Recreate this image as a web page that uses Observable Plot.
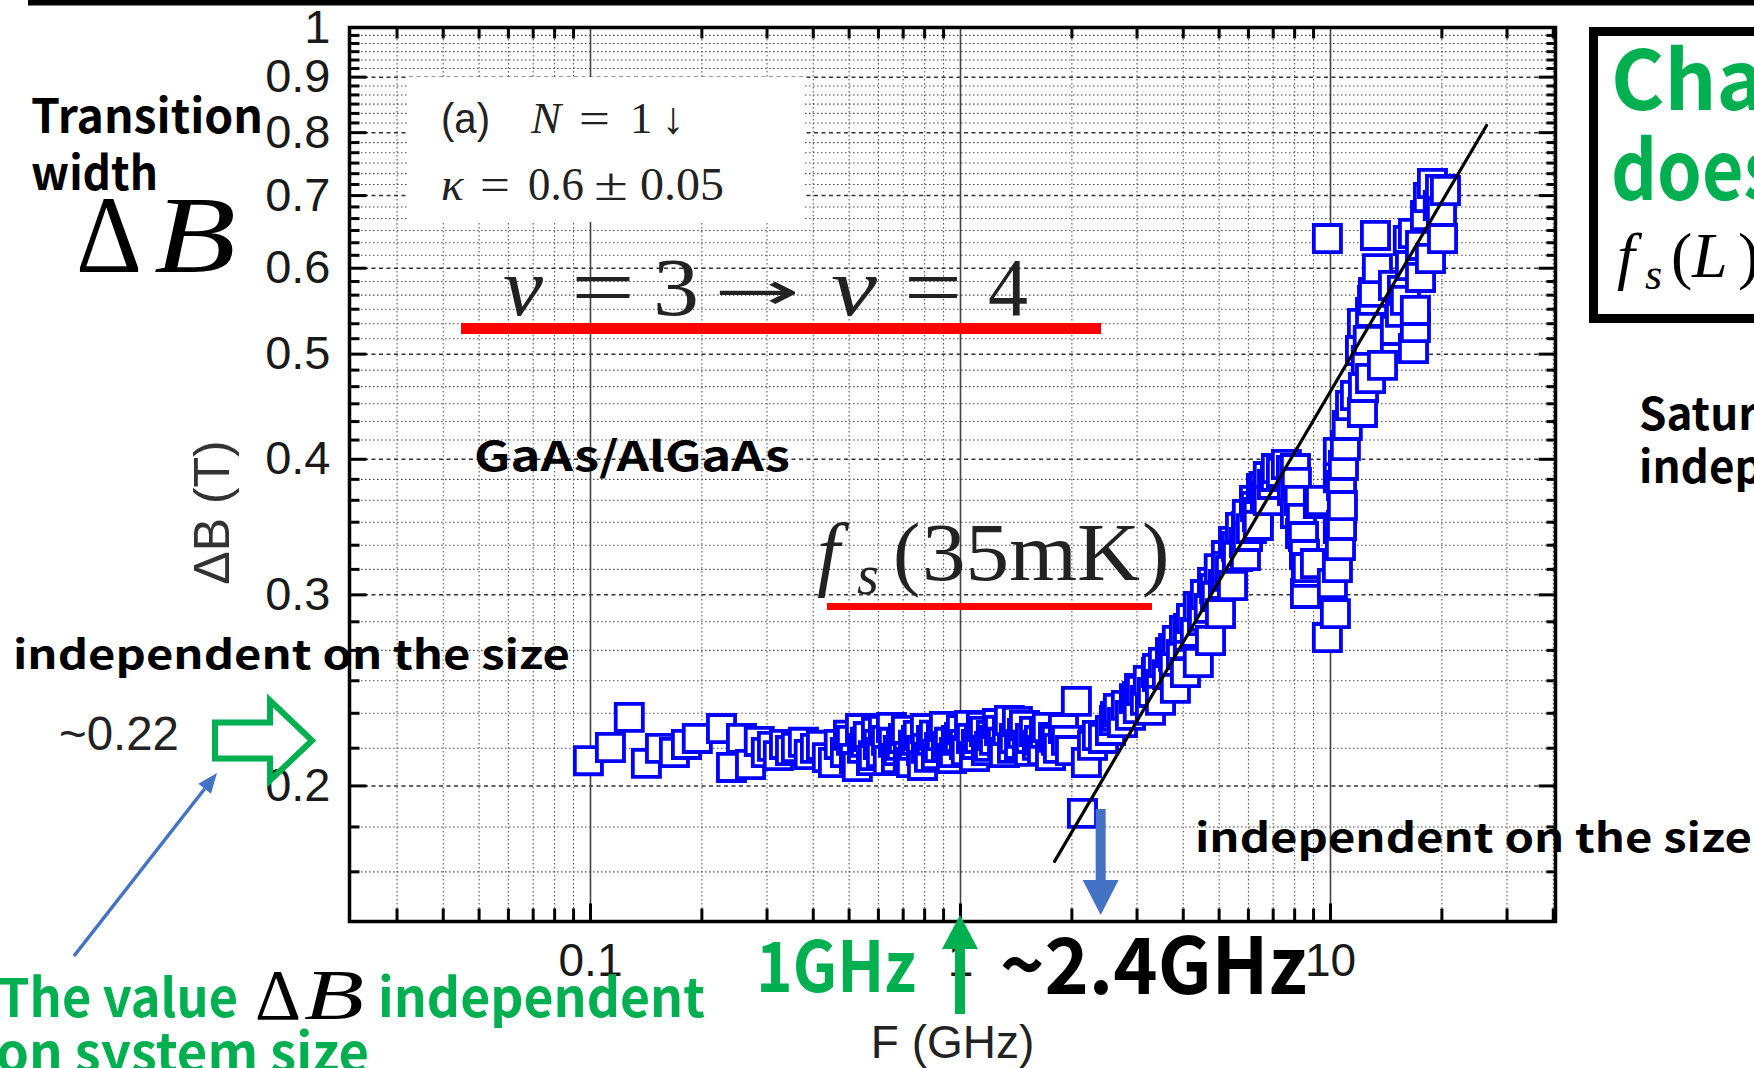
<!DOCTYPE html>
<html>
<head>
<meta charset="utf-8">
<script src="https://cdn.jsdelivr.net/npm/d3@7"></script>
<script src="https://cdn.jsdelivr.net/npm/@observablehq/plot@0.6"></script>
<style>
  html, body { margin: 0; padding: 0; background: #fff; }
  #page { position: relative; width: 1754px; height: 1068px; overflow: hidden; background: #fff; }
  #page > svg { position: absolute; left: 0; top: 0; }
</style>
</head>
<body>
<div id="page"></div>
<script>
// Transition width ΔB (T) versus microwave frequency F (GHz), N = 1↓, GaAs/AlGaAs
const F_GHz = [
  0.0987, 0.1132, 0.1273, 0.1416, 0.1546, 0.1686, 0.1817, 0.1944, 0.2260, 0.2405,
  0.2559, 0.2707, 0.2859, 0.2987, 0.3104, 0.3219, 0.3345, 0.3472, 0.3602, 0.3763,
  0.3901, 0.4055, 0.4210, 0.4367, 0.4536, 0.4703, 0.4887, 0.5074, 0.5263, 0.5434,
  0.5635, 0.5818, 0.5997, 0.6192, 0.6382, 0.6589, 0.6791, 0.7014, 0.7229, 0.7463,
  0.7692, 0.7894, 0.8089, 0.8348, 0.8608, 0.8884, 0.9161, 0.9454, 0.9748, 1.006,
  1.037, 1.071, 1.104, 1.139, 1.175, 1.212, 1.258, 1.299, 1.339, 1.382,
  1.425, 1.471, 1.517, 1.546, 1.614, 1.666, 1.717, 1.751, 1.816, 1.898,
  2.057, 2.136, 2.189, 2.274, 2.344, 2.435, 2.543, 2.607, 2.670, 2.741,
  2.808, 2.880, 2.952, 3.024, 3.084, 3.162, 3.219, 3.303, 3.384, 3.472,
  3.537, 3.624, 3.694, 3.786, 3.855, 3.956, 4.030, 4.129, 4.210, 4.315,
  4.393, 4.509, 4.592, 4.703, 4.798, 4.916, 5.004, 5.137, 5.232, 5.367,
  5.467, 5.602, 5.711, 5.854, 5.961, 6.114, 6.230, 6.382, 6.507, 6.670,
  6.791, 6.971, 7.142, 7.370, 7.600, 7.844, 8.088, 8.234, 8.347, 8.452,
  8.504, 8.607, 8.556, 9.107, 9.273, 9.808, 10.12, 10.44, 10.31, 10.64,
  10.71, 10.77, 10.71, 10.84, 10.97, 11.10, 11.33, 9.808, 11.68, 12.20,
  12.28, 12.05, 12.20, 12.83, 13.07, 13.39, 13.23, 13.82, 14.80, 16.76,
  16.96, 16.96, 17.51, 16.76, 18.63, 20.08, 19.95, 18.39, 19.83, 18.06,
  15.94, 14.98, 18.86, 20.45, 19.56, 17.51, 16.45, 15.46, 15.65, 16.23,
  12.99, 12.65, 12.50, 12.83, 8.040, 7.894, 8.040, 8.297, 8.660, 9.397,
  10.50, 10.50, 10.50, 4.393, 4.739, 5.043, 5.434, 5.889, 6.382, 6.791,
  3.262, 3.472, 3.809, 4.055,
  0.4981, 0.5170, 0.5367, 0.5536, 0.5747, 0.5929, 0.6115, 0.6310, 0.6508, 0.6714,
  0.6928, 0.7146, 0.7371, 0.7604, 0.7845, 0.8042, 0.8245, 0.8505, 0.8774, 0.9052,
  0.9338, 0.9634, 0.9938, 1.025, 1.058, 1.091, 1.126, 1.161, 1.198, 1.236,
  1.275, 1.315, 1.356, 1.399, 1.444, 1.489, 1.536, 1.585, 1.635, 1.687,
  1.784, 1.840, 1.934, 1.983,
  2.624, 2.673, 3.009, 3.047, 3.407, 3.407, 3.765, 3.765, 4.133, 4.133,
  4.537, 4.509, 4.890, 4.860, 5.236, 5.236, 5.607, 5.571, 5.966, 5.929,
  6.349, 6.271, 6.714, 6.631, 7.101
];
const deltaB_T = [
  0.2110, 0.2170, 0.2313, 0.2098, 0.2166, 0.2147, 0.2184, 0.2212, 0.2259, 0.2080,
  0.2212, 0.2093, 0.2198, 0.2147, 0.2175, 0.2133, 0.2184, 0.2156, 0.2170, 0.2194,
  0.2138, 0.2166, 0.2180, 0.2124, 0.2102, 0.2184, 0.2147, 0.2203, 0.2084, 0.2166,
  0.2221, 0.2133, 0.2184, 0.2250, 0.2111, 0.2194, 0.2156, 0.2212, 0.2129, 0.2180,
  0.2226, 0.2089, 0.2166, 0.2203, 0.2138, 0.2226, 0.2175, 0.2120, 0.2203, 0.2254,
  0.2156, 0.2212, 0.2184, 0.2269, 0.2156, 0.2226, 0.2283, 0.2194, 0.2250, 0.2166,
  0.2293, 0.2236, 0.2180, 0.2212, 0.2180, 0.2156, 0.2264, 0.2133, 0.2203, 0.2259,
  0.2393, 0.1887, 0.2102, 0.2180, 0.2226, 0.2212, 0.2250, 0.2298, 0.2338, 0.2288,
  0.2373, 0.2323, 0.2407, 0.2357, 0.2449, 0.2398, 0.2502, 0.2439, 0.2544, 0.2481,
  0.2599, 0.2533, 0.2655, 0.2588, 0.2723, 0.2643, 0.2782, 0.2700, 0.2853, 0.2770,
  0.2927, 0.2841, 0.3002, 0.2915, 0.3080, 0.2990, 0.3172, 0.3067, 0.3261, 0.3160,
  0.3360, 0.3254, 0.3461, 0.3353, 0.3559, 0.3453, 0.3665, 0.3574, 0.3759, 0.3680,
  0.3856, 0.3792, 0.3922, 0.3890, 0.3956, 0.3906, 0.3808, 0.3665, 0.3528, 0.3395,
  0.3268, 0.3147, 0.3009, 0.3206, 0.3642, 0.2740, 0.3073, 0.3179, 0.2883, 0.3331,
  0.3476, 0.3626, 0.3783, 0.3948, 0.4119, 0.4298, 0.4484, 0.6390, 0.4580, 0.4418,
  0.4659, 0.5039, 0.5337, 0.5463, 0.5700, 0.5995, 0.6432, 0.4882, 0.5784, 0.5060,
  0.5291, 0.5486, 0.5884, 0.6459, 0.6125, 0.6390, 0.6768, 0.6971, 0.7091, 0.6710,
  0.5604, 0.5258, 0.7182, 0.7076, 0.6855, 0.6297, 0.6034, 0.5463, 0.5724, 0.6364,
  0.5604, 0.5148, 0.4934, 0.4748, 0.3922, 0.3744, 0.3566, 0.3417, 0.3179, 0.3665,
  0.4059, 0.3847, 0.3453, 0.2599, 0.2723, 0.2883, 0.3060, 0.3261, 0.3476, 0.3665,
  0.2348, 0.2398, 0.2460, 0.2544,
  0.2227, 0.2120, 0.2259, 0.2194, 0.2111, 0.2240, 0.2147, 0.2203, 0.2264, 0.2120,
  0.2180, 0.2250, 0.2102, 0.2203, 0.2156, 0.2259, 0.2125, 0.2227, 0.2170, 0.2269,
  0.2194, 0.2147, 0.2217, 0.2184, 0.2274, 0.2129, 0.2212, 0.2245, 0.2175, 0.2203,
  0.2250, 0.2147, 0.2298, 0.2212, 0.2184, 0.2274, 0.2152, 0.2245, 0.2203, 0.2236,
  0.2217, 0.2166, 0.2203, 0.2156,
  0.2318, 0.2358, 0.2418, 0.2460, 0.2523, 0.2566, 0.2633, 0.2678, 0.2747, 0.2794,
  0.2866, 0.2915, 0.2990, 0.3041, 0.3120, 0.3187, 0.3255, 0.3325, 0.3396, 0.3469,
  0.3543, 0.3619, 0.3697, 0.3776, 0.3857
];

// power-law guide line through the rising part (end points)
const fitF = [1.796, 26.41];
const fitB = [0.1704, 0.8123];

// axis tick labels
const xTickValues = [0.1, 1, 10];
const yTickValues = [0.2, 0.3, 0.4, 0.5, 0.6, 0.7, 0.8, 0.9, 1];

const xDomain = [0.02232, 40.56];
const yDomain = [0.15, 1];

// annotated values
const plateauB = 0.22;     // ~0.22 T
const markF1 = 1;          // 1GHz
const markF2 = 2.4;        // ~2.4GHz

const points = F_GHz.map((F, i) => ({F, dB: deltaB_T[i]})).sort((a, b) => a.F - b.F);
const fit = fitF.map((F, i) => ({F, dB: fitB[i]}));

// grid: 2..9 per decade on x, 1/60 T steps on y
const xMinor = [];
for (const d of [0.01, 0.1, 1, 10]) for (let k = 2; k <= 9; k++) {
  const v = k * d;
  if (v > xDomain[0] && v < xDomain[1]) xMinor.push(v);
}
const yMajor = d3.range(2, 10).map(k => k / 10);
const yMinor = d3.range(10, 60).filter(k => k % 6 !== 0).map(k => k / 60);

const SANS = "'Liberation Sans', Arial, sans-serif";
const JP = "'Noto Sans CJK JP', 'Noto Sans', sans-serif";
const SERIF = "'Liberation Serif', 'DejaVu Serif', serif";
const GREEN = "#00b050";
const BLUE_ARROW = "#4472c4";

// inward tick shape for the frame
const tickShape = {draw(ctx, l) { ctx.moveTo(0, 0); ctx.lineTo(0, -l); }};
const tk = {shape: tickShape, anchor: "start", stroke: "#000", strokeWidth: 3, strokeLinecap: "butt"};

const fig = Plot.plot({
  width: 1754,
  height: 1068,
  marginLeft: 349,
  marginRight: 199,
  marginTop: 27,
  marginBottom: 147,
  style: {background: "#fff", fontFamily: SANS, color: "#1a1a1a"},
  x: {type: "log", domain: xDomain, axis: null},
  y: {type: "log", domain: yDomain, axis: null},
  marks: [
    Plot.ruleX(xMinor, {stroke: "#555", strokeWidth: 1.1, strokeDasharray: "1.6 2.4"}),
    Plot.ruleY(yMinor, {stroke: "#555", strokeWidth: 1.1, strokeDasharray: "1.6 2.4"}),
    Plot.ruleY(yMajor, {stroke: "#333", strokeWidth: 1.5, strokeDasharray: "4 3.5"}),
    Plot.ruleX(xTickValues, {stroke: "#444", strokeWidth: 1.6}),
    Plot.vector(yMinor, {y: d => d, frameAnchor: "left", rotate: 90, length: 10, ...tk}),
    Plot.vector(yMajor, {y: d => d, frameAnchor: "left", rotate: 90, length: 17, ...tk}),
    Plot.vector(yMinor, {y: d => d, frameAnchor: "right", rotate: -90, length: 9, ...tk}),
    Plot.vector(yMajor, {y: d => d, frameAnchor: "right", rotate: -90, length: 17, ...tk}),
    Plot.vector(xMinor, {x: d => d, frameAnchor: "bottom", rotate: 0, length: 13, ...tk}),
    Plot.vector(xTickValues, {x: d => d, frameAnchor: "bottom", rotate: 0, length: 18, ...tk}),
    Plot.vector(xMinor, {x: d => d, frameAnchor: "top", rotate: 180, length: 11, ...tk}),
    Plot.frame({stroke: "#000", strokeWidth: 3.5}),
    Plot.dot(points, {x: "F", y: "dB", symbol: "square", r: 15.3, stroke: "#0000ff", fill: "#fff", strokeWidth: 3.8}),
    Plot.line(fit, {x: "F", y: "dB", stroke: "#000", strokeWidth: 3.2}),
    Plot.text(yTickValues, {y: d => d, text: d => String(d), frameAnchor: "left", textAnchor: "end", lineAnchor: "middle", dx: -19, fontSize: 47, fill: "#1a1a1a"}),
    Plot.text(xTickValues, {x: d => d, text: d => String(d), frameAnchor: "bottom", textAnchor: "middle", lineAnchor: "middle", dy: 40, fontSize: 46, fill: "#1a1a1a"}),
    Plot.text(["F (GHz)"], {text: d => d, frameAnchor: "bottom", textAnchor: "middle", lineAnchor: "middle", dy: 122, fontSize: 46, fill: "#222"}),
    Plot.text(["ΔB (T)"], {text: d => d, frameAnchor: "left", textAnchor: "middle", lineAnchor: "middle", dx: -137, dy: 38, rotate: -90, fontSize: 50, fill: "#333"})
  ]
});

const page = document.getElementById("page");
page.appendChild(fig);
const sx = fig.scale("x"), sy = fig.scale("y");

// slide annotations drawn over the chart
const ov = d3.select(page).append("svg").attr("width", 1754).attr("height", 1068);

function styled(sel, o) {
  if (o.family) sel.attr("font-family", o.family);
  if (o.size) sel.attr("font-size", o.size);
  if (o.weight) sel.attr("font-weight", o.weight);
  if (o.style) sel.attr("font-style", o.style);
  if (o.fill) sel.attr("fill", o.fill);
  if (o.len) sel.attr("textLength", o.len).attr("lengthAdjust", "spacingAndGlyphs");
  return sel;
}
function txt(x, y, s, o = {}) {
  return styled(ov.append("text").attr("x", x).attr("y", y).text(s),
    {family: JP, size: 40, weight: 400, fill: "#000", ...o});
}
// one text element built from separately placed pieces
function rich(base, parts) {
  const t = styled(ov.append("text"), {family: SERIF, weight: 400, fill: "#000", ...base});
  for (const p of parts) {
    styled(t.append("tspan").attr("x", p.x).attr("y", p.y).text(p.t), p);
  }
  return t;
}

// top rule of the slide
ov.append("rect").attr("x", 28).attr("y", 0).attr("width", 1726).attr("height", 5.5).attr("fill", "#000");

// left heading
txt(31, 133, "Transition", {size: 47, weight: 700, len: 232});
txt(31, 190, "width", {size: 47, weight: 700, len: 127});
rich({size: 110}, [
  {x: 76, y: 272, t: "Δ", len: 66},
  {x: 154, y: 272, t: "B", style: "italic", len: 82}
]);

// panel label
ov.append("rect").attr("x", 408).attr("y", 77).attr("width", 396).attr("height", 145).attr("fill", "#fff");
rich({size: 45, fill: "#222"}, [
  {x: 441, y: 133, t: "(a)", family: SANS, size: 42, len: 49},
  {x: 531, y: 133, t: "N", style: "italic"},
  {x: 579, y: 133, t: "=", len: 31},
  {x: 630, y: 133, t: "1"},
  {x: 662, y: 133, t: "↓"}
]);
rich({size: 47, fill: "#222"}, [
  {x: 441, y: 200, t: "κ", style: "italic"},
  {x: 480, y: 200, t: "=", len: 30},
  {x: 528, y: 200, t: "0.6", len: 56},
  {x: 594, y: 200, t: "±", len: 34},
  {x: 640, y: 200, t: "0.05", len: 84}
]);

// ν = 3 → ν = 4
rich({size: 82, fill: "#222"}, [
  {x: 503, y: 315, t: "ν", style: "italic", len: 40},
  {x: 571, y: 315, t: "=", len: 64},
  {x: 653, y: 315, t: "3", len: 46},
  {x: 714, y: 309, t: "→", family: "'DejaVu Sans', sans-serif", size: 52, len: 86},
  {x: 831, y: 315, t: "ν", style: "italic", len: 46},
  {x: 904, y: 315, t: "=", len: 58},
  {x: 988, y: 315, t: "4", len: 40}
]);
ov.append("rect").attr("x", 461).attr("y", 323).attr("width", 640).attr("height", 11).attr("fill", "#ff0000");

txt(474, 471, "GaAs/AlGaAs", {size: 41, weight: 700, len: 316});

// f_s(35mK)
rich({size: 82, fill: "#222"}, [
  {x: 817, y: 580, t: "f", style: "italic"},
  {x: 857, y: 594, t: "s", style: "italic", size: 56},
  {x: 893, y: 580, t: "("},
  {x: 922, y: 580, t: "35mK", len: 218},
  {x: 1142, y: 580, t: ")"}
]);
ov.append("rect").attr("x", 827).attr("y", 603).attr("width", 325).attr("height", 7).attr("fill", "#ff0000");

txt(13, 669, "independent on the size", {size: 40, weight: 700, len: 557});
txt(1195, 852, "independent on the size", {size: 40, weight: 700, len: 557});

// ~0.22 with outlined arrow
txt(59, 750, "~0.22", {family: SANS, size: 48, fill: "#222", len: 120});
{
  const tx = 312, ty = sy.apply(plateauB);
  const p = [[tx - 97, ty - 18], [tx - 42, ty - 18], [tx - 42, ty - 40], [tx, ty],
             [tx - 42, ty + 40], [tx - 42, ty + 18], [tx - 97, ty + 18]];
  ov.append("path").attr("d", "M" + p.map(q => q.join(",")).join("L") + "Z")
    .attr("fill", "none").attr("stroke", GREEN).attr("stroke-width", 6).attr("stroke-linejoin", "miter");
}

// thin pointer from the caption
{
  const x0 = 74, y0 = 956, x1 = 217, y1 = 773;
  const L = Math.hypot(x1 - x0, y1 - y0), ux = (x1 - x0) / L, uy = (y1 - y0) / L;
  const hl = 20, hw = 8, bx = x1 - ux * hl, by = y1 - uy * hl;
  ov.append("line").attr("x1", x0).attr("y1", y0).attr("x2", bx).attr("y2", by)
    .attr("stroke", BLUE_ARROW).attr("stroke-width", 3.5);
  ov.append("path").attr("d", `M${x1},${y1}L${bx - uy * hw},${by + ux * hw}L${bx + uy * hw},${by - ux * hw}Z`)
    .attr("fill", BLUE_ARROW);
}

// caption
rich({family: JP, size: 53, weight: 700, fill: GREEN}, [
  {x: -2, y: 1017, t: "The value", len: 240},
  {x: 255, y: 1019, t: "Δ", family: SERIF, weight: 400, size: 72, fill: "#000", len: 46},
  {x: 304, y: 1019, t: "B", family: SERIF, weight: 400, style: "italic", size: 72, fill: "#000", len: 60},
  {x: 378, y: 1017, t: "independent", len: 327}
]);
txt(-4, 1072, "on system size", {size: 53, weight: 700, fill: GREEN, len: 373});

// 1 GHz marker
txt(756, 992, "1GHz", {size: 70, weight: 700, fill: GREEN, len: 160});
{
  const c = sx.apply(markF1), top = 915, bot = 1014, base = 949;
  ov.append("path")
    .attr("d", `M${c - 5},${bot}L${c - 5},${base}L${c - 18},${base}L${c},${top}L${c + 18},${base}L${c + 5},${base}L${c + 5},${bot}Z`)
    .attr("fill", GREEN);
}

// ~2.4 GHz marker
txt(1000, 994, "~2.4GHz", {size: 78, weight: 700, len: 307});
{
  const c = sx.apply(markF2), top = 809, tip = 915, base = 880;
  ov.append("path")
    .attr("d", `M${c - 5},${top}L${c - 5},${base}L${c - 18},${base}L${c},${tip}L${c + 18},${base}L${c + 5},${base}L${c + 5},${top}Z`)
    .attr("fill", BLUE_ARROW);
}

// right-hand box
ov.append("rect").attr("x", 1593.5).attr("y", 31.5).attr("width", 400).attr("height", 287)
  .attr("fill", "#fff").attr("stroke", "#000").attr("stroke-width", 9);
txt(1611, 110, "Change", {size: 82, weight: 700, fill: GREEN, len: 300});
txt(1611, 200, "does", {size: 82, weight: 700, fill: GREEN, len: 168});
rich({size: 64}, [
  {x: 1617, y: 277, t: "f", style: "italic"},
  {x: 1645, y: 289, t: "s", style: "italic", size: 44},
  {x: 1671, y: 277, t: "("},
  {x: 1692, y: 277, t: "L", style: "italic"},
  {x: 1738, y: 277, t: ")"}
]);

txt(1639, 430, "Saturation", {size: 44, weight: 700});
txt(1639, 483, "independent", {size: 44, weight: 700});
</script>
</body>
</html>
